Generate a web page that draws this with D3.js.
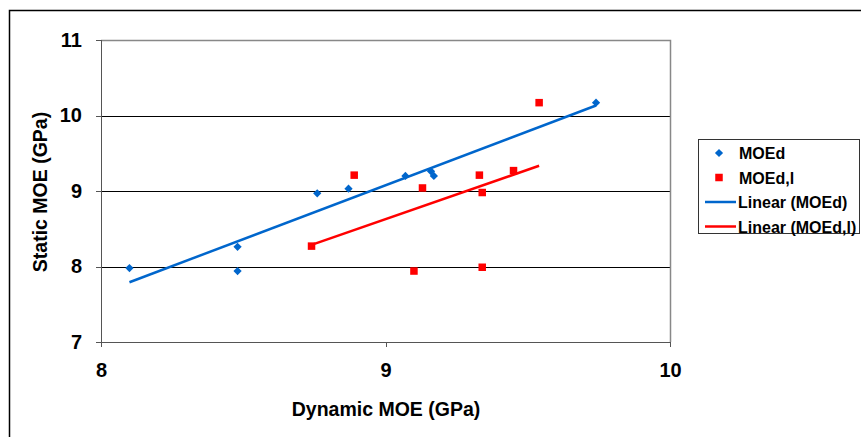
<!DOCTYPE html>
<meta charset="utf-8">
<style>
body{margin:0;background:#fff;}
text{font-family:"Liberation Sans",Arial,sans-serif;font-weight:bold;fill:#000;}
.grid line{stroke:#000;stroke-width:1px;shape-rendering:crispEdges;}
.axis path,.axis line{stroke:#555;shape-rendering:crispEdges;}
</style>
<body>
<script src="https://d3js.org/d3.v7.min.js"></script>
<script>

// dynamic MOE (x) and static MOE (y), GPa
var moedX=[8.10,8.48,8.48,8.76,8.87,9.07,9.16,9.17,9.74];
var moedY=[7.98,8.26,7.94,8.97,9.03,9.20,9.26,9.20,10.17];
var moedlX=[8.74,8.89,9.10,9.13,9.33,9.34,9.34,9.45,9.54];
var moedlY=[8.27,9.21,7.94,9.04,9.21,7.99,8.98,9.27,10.17];
var xTicks=[8,9,10];
var yTicks=[7,8,9,10,11];
var seriesNames=["MOEd","MOEd,l","Linear (MOEd)","Linear (MOEd,l)"];

var blue="#0066cc", red="#ff0000";

var svg=d3.select("body").append("svg").attr("width",861).attr("height",437);

// chart area frame
svg.append("rect").attr("x",9.5).attr("y",10.5).attr("width",900).attr("height",500)
  .attr("fill","none").attr("stroke","#000").attr("stroke-width",1.5);

var x=d3.scaleLinear().domain([8,10]).range([101,670]);
var y=d3.scaleLinear().domain([7,11]).range([342,40]);

// gridlines
svg.append("g").attr("class","grid").selectAll("line")
  .data([8,9,10]).join("line")
  .attr("x1",x(8)).attr("x2",x(10))
  .attr("y1",d=>Math.round(y(d))+0.5).attr("y2",d=>Math.round(y(d))+0.5);

// plot border top/right
svg.append("path")
  .attr("d","M"+x(8)+","+(y(11)+0.5)+"H"+(x(10)+0.5)+"V"+y(7))
  .attr("fill","none").attr("stroke","#888").attr("stroke-width",1.5);

var xAxis=svg.append("g").attr("class","axis").attr("transform","translate(0,"+y(7)+")")
  .call(d3.axisBottom(x).tickValues(xTicks).tickSize(5).tickPadding(16).tickFormat(d3.format("d")));
xAxis.selectAll("text").style("font-size","20px");
xAxis.select(".domain").attr("stroke-width",1.5);

var yAxis=svg.append("g").attr("class","axis").attr("transform","translate("+x(8)+",0)")
  .call(d3.axisLeft(y).tickValues(yTicks).tickSize(5).tickPadding(14).tickFormat(d3.format("d")));
yAxis.selectAll("text").style("font-size","20px");
yAxis.select(".domain").attr("stroke-width",1.5);

svg.append("text").attr("x",386).attr("y",416).attr("text-anchor","middle")
  .style("font-size","19.5px").text("Dynamic MOE (GPa)");
svg.append("text").attr("transform","translate(47,192) rotate(-90)").attr("text-anchor","middle")
  .style("font-size","19.5px").text("Static MOE (GPa)");

function fit(xs,ys){
  var mx=d3.mean(xs), my=d3.mean(ys);
  var b=d3.sum(xs,(v,i)=>(v-mx)*(ys[i]-my))/d3.sum(xs,v=>(v-mx)*(v-mx));
  var a=my-b*mx;
  var x0=d3.min(xs), x1=d3.max(xs);
  return [[x0,a+b*x0],[x1,a+b*x1]];
}

var line=d3.line().x(d=>x(d[0])).y(d=>y(d[1]));
svg.append("path").attr("d",line(fit(moedX,moedY))).attr("stroke",blue).attr("stroke-width",2.5).attr("fill","none");
svg.append("path").attr("d",line(fit(moedlX,moedlY))).attr("stroke",red).attr("stroke-width",2.5).attr("fill","none");

var diamond=d3.symbol().type(d3.symbolSquare).size(34);
svg.append("g").selectAll("path").data(moedX).join("path")
  .attr("d",diamond)
  .attr("transform",(d,i)=>"translate("+x(d)+","+y(moedY[i])+") rotate(45)")
  .attr("fill",blue);

svg.append("g").selectAll("rect").data(moedlX).join("rect")
  .attr("x",d=>x(d)-3.75).attr("y",(d,i)=>y(moedlY[i])-3.75)
  .attr("width",7.5).attr("height",7.5).attr("fill",red);

// legend
var lg=svg.append("g").attr("transform","translate(698,139)");
lg.append("rect").attr("x",0.5).attr("y",0.5).attr("width",161).attr("height",94)
  .attr("fill","#fff").attr("stroke","#333").attr("stroke-width",1);
var rows=lg.selectAll("g").data(seriesNames).join("g")
  .attr("transform",(d,i)=>"translate(0,"+(14+i*24.5)+")");
rows.append("text").attr("x",(d,i)=>i<2?41:40).attr("y",6).style("font-size","16px").text(d=>d);
rows.filter((d,i)=>i==0).append("path").attr("d",diamond).attr("transform","translate(21,0) rotate(45)").attr("fill",blue);
rows.filter((d,i)=>i==1).append("rect").attr("x",17.25).attr("y",-3.75).attr("width",7.5).attr("height",7.5).attr("fill",red);
rows.filter((d,i)=>i>1).append("line").attr("x1",7).attr("x2",38).attr("y1",0).attr("y2",0)
  .attr("stroke",(d,i)=>i==0?blue:red).attr("stroke-width",2.5);

</script>
</body>
